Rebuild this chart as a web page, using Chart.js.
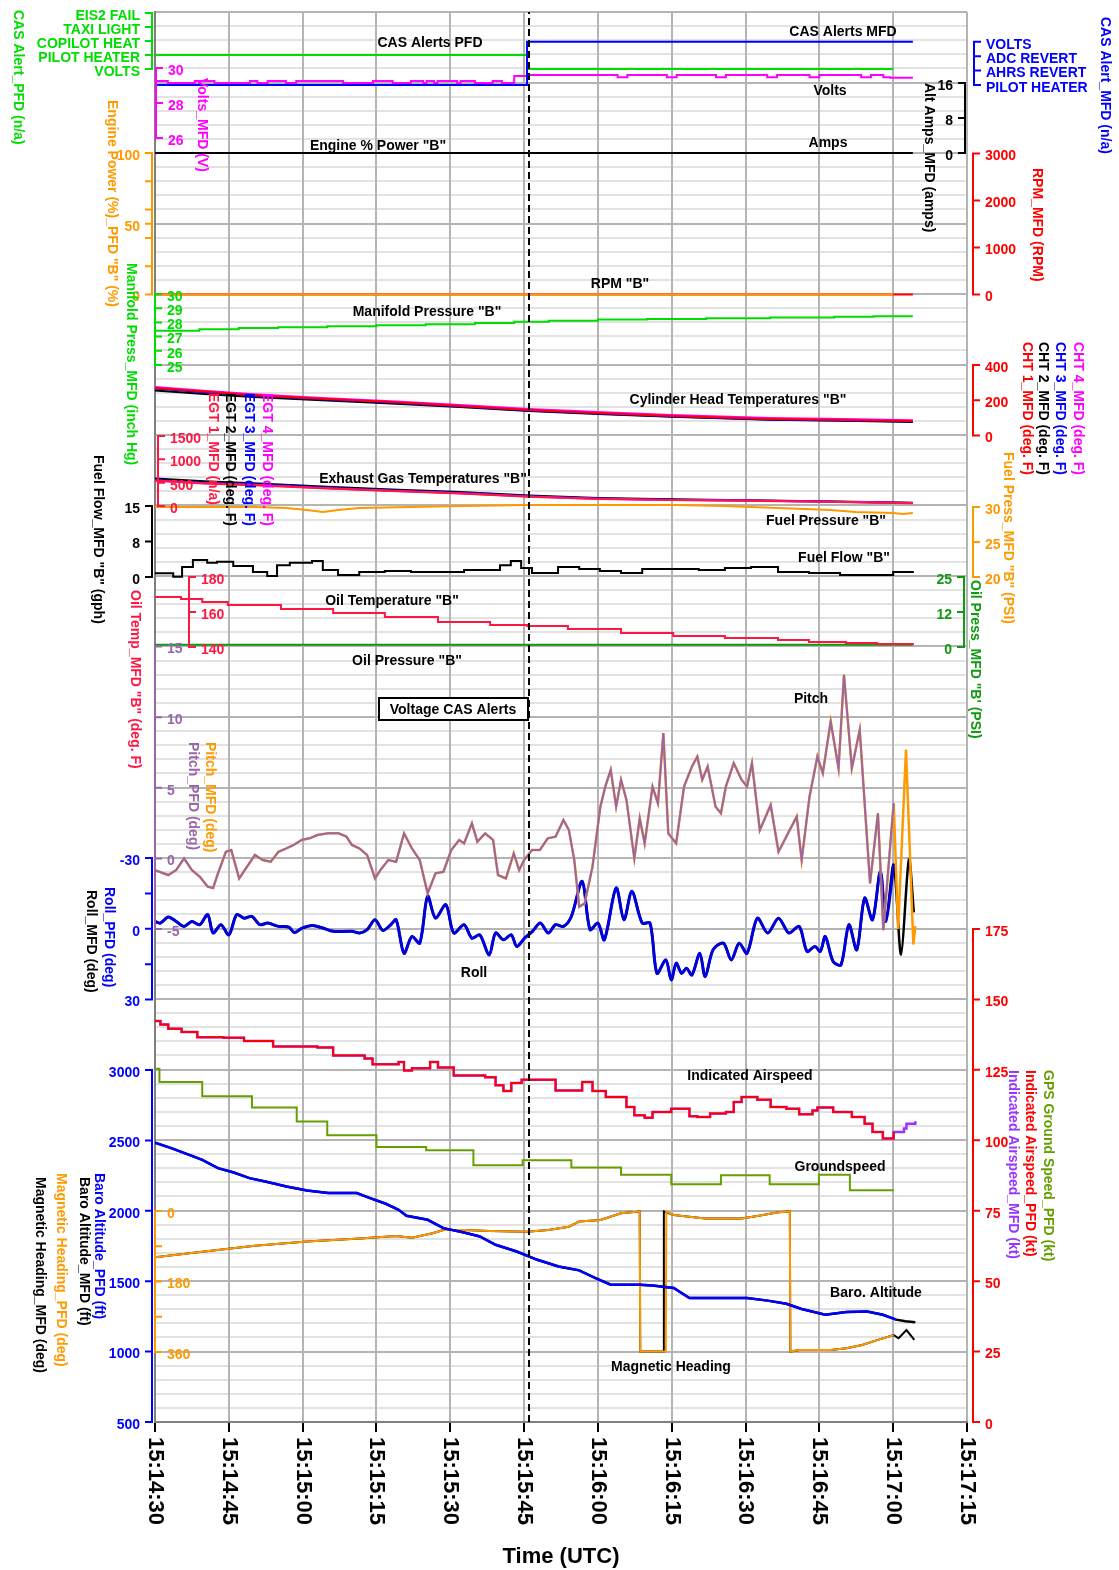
<!DOCTYPE html>
<html>
<head>
<meta charset="utf-8">
<title>Engine and flight parameters – voltage CAS alerts</title>
<script src="https://cdn.jsdelivr.net/npm/chart.js@4.4.1/dist/chart.umd.min.js"></script>
<style>
  html, body { margin: 0; padding: 0; background: #fff; }
  #chart { display: block; }
</style>
</head>
<body>
<canvas id="chart" width="1119" height="1570"></canvas>
<script>
// ─── Data (time in seconds after 15:14:30 UTC) ──────────────────
const timeTickSeconds = [0, 15, 30, 45, 60, 75, 90, 105, 120, 135, 150, 165];
const timeTickLabels = ['15:14:30', '15:14:45', '15:15:00', '15:15:15', '15:15:30', '15:15:45',
  '15:16:00', '15:16:15', '15:16:30', '15:16:45', '15:17:00', '15:17:15'];
const alertTime = 76;

const casPfdLabels = ['VOLTS', 'PILOT HEATER', 'COPILOT HEAT', 'TAXI LIGHT', 'EIS2 FAIL'];
const casMfdLabels = ['VOLTS', 'ADC REVERT', 'AHRS REVERT', 'PILOT HEATER'];
const casPfdT = [0, 75.6, 150];
const casPfdV = [1, 0, 0];
const casMfdT = [0, 75.6, 154];
const casMfdV = [3, 0, 0];

const voltsT = [0, 2.6, 8.1, 12.1, 19.3, 20.8, 22.9, 26.6, 28.7, 38.2,
  44.3, 48.3, 52, 54.5, 55.2, 56.7, 57.4, 61.4, 62.1, 65,
  68.6, 70.5, 73, 75.6, 94, 96, 104, 106, 114, 116,
  124.4, 126.4, 133, 135, 143.5, 145.5, 148, 149.4, 154];
const voltsV = [29.26, 29.15, 29.26, 29.15, 29.26, 29.15, 29.26, 29.15, 29.26, 29.15,
  29.26, 29.15, 29.26, 29.15, 29.26, 29.15, 29.26, 29.15, 29.26, 29.15,
  29.26, 29.15, 29.55, 29.6, 29.47, 29.6, 29.47, 29.6, 29.47, 29.6,
  29.47, 29.6, 29.47, 29.6, 29.47, 29.6, 29.47, 29.44, 29.44];

const ampsT = [0, 154];
const ampsV = [0, 0];
const powerT = [0, 150];
const powerV = [0, 0];
const rpmT = [0, 154];
const rpmV = [0, 0];

const manT = [0, 9, 17, 25, 35, 45, 55, 65, 73, 80, 90, 100, 112, 125, 138, 146, 154];
const manV = [27.42, 27.52, 27.6, 27.66, 27.73, 27.8, 27.87, 27.95, 28.05, 28.12, 28.2, 28.24, 28.3, 28.35, 28.4, 28.44, 28.44];

const chtT = [0, 10, 20, 35, 48, 62, 76, 90, 105, 125, 140, 154];
const cht1 = [270, 249, 229, 207, 190, 168, 145, 128, 111, 94, 88, 82];
const cht2 = [255, 236, 218, 198, 182, 161, 139, 122, 106, 89, 83, 77];
const cht3 = [267, 246, 226, 204, 187, 165, 142, 125, 108, 91, 85, 79];
const cht4 = [275, 254, 234, 212, 195, 173, 150, 133, 116, 99, 93, 87];

const egtT = [0, 10, 20, 35, 48, 62, 76, 90, 105, 120, 135, 154];
const egt1 = [540, 483, 447, 376, 319, 270, 198, 150, 128, 113, 92, 60];
const egt2 = [590, 530, 490, 415, 355, 300, 225, 172, 145, 125, 102, 70];
const egt3 = [555, 500, 465, 392, 333, 282, 208, 160, 136, 120, 98, 64];
const egt4 = [548, 490, 455, 383, 325, 275, 202, 155, 131, 116, 95, 62];

const ffT = [0, 3.7, 5.5, 7.7, 10.6, 12.6, 15.9, 19.9, 22.8, 24.8,
  27.4, 31.9, 34.1, 37.2, 41.5, 46.7, 52.0, 57.5, 62.8, 67.1,
  70.1, 72.3, 74.4, 76.6, 79.7, 81.9, 86.2, 90.4, 94.7, 99.0,
  105.3, 110.5, 115.8, 121.1, 126.6, 132.9, 139.2, 145.7, 150.0, 154.0];
const ffV = [0.78, 0.06, 2.1, 3.6, 3.0, 3.2, 2.3, 1.06, 0.2, 2.5,
  3.0, 3.4, 1.5, 0.4, 1.06, 1.27, 1.06, 1.06, 1.5, 1.5,
  2.5, 3.4, 1.9, 0.85, 0.85, 2.1, 1.7, 1.27, 0.85, 1.7,
  1.7, 1.5, 1.9, 2.1, 1.06, 0.85, 0.42, 0.42, 1.06, 0.85];

const fpT = [0, 20.3, 26.6, 30.9, 34.1, 37.2, 41.5, 52, 62.8, 75.6, 94.7, 105.3, 115.8, 126.6, 137.2, 142.4, 150, 152, 154];
const fpV = [30.0, 30.0, 29.86, 29.57, 29.29, 29.57, 29.86, 30.0, 30.14, 30.29, 30.29, 30.29, 30.14, 29.86, 29.57, 29.29, 29.14, 29.0, 29.14];

const otT = [0, 5.3, 9.6, 14.8, 25.6, 36.2, 46.7, 57.5, 68.1, 75.6, 83.9, 94.7, 105.3, 115.8, 126.6, 132.9, 140.4, 146.7, 154];
const otV = [168.6, 167.4, 165.7, 164.0, 161.7, 159.4, 157.1, 154.3, 152.6, 152.0, 150.3, 148.0, 146.3, 145.1, 144.0, 142.9, 142.3, 141.7, 141.1];

const opT = [0, 154];
const opV = [0.8, 0.8];

const pitchT = [0, 2.7, 4.3, 5.9, 7.5, 9.1, 10.7, 11.8, 12.8, 14.4,
  15.5, 17.1, 18.7, 20.3, 21.9, 23.5, 25.1, 26.7, 28.2, 29.8,
  31.4, 33.0, 35.2, 37.3, 38.9, 40.0, 41.5, 43.1, 44.7, 45.8,
  47.4, 49.0, 50.6, 52.2, 53.8, 55.4, 57.0, 58.6, 60.2, 61.8,
  62.8, 64.4, 65.5, 67.1, 68.7, 69.7, 71.3, 72.9, 74.0, 75.0,
  76.6, 78.2, 79.8, 81.4, 83.0, 84.1, 85.2, 86.2, 87.3, 88.9,
  90.5, 91.5, 92.6, 93.7, 94.7, 95.8, 97.4, 98.5, 99.5, 101.1,
  102.2, 103.3, 104.3, 105.9, 107.5, 109.1, 110.2, 111.2, 112.3, 113.9,
  115.0, 116.0, 117.6, 119.2, 120.3, 121.3, 122.9, 125.1, 126.7, 128.8,
  130.4, 131.4, 133.0, 134.6, 135.7, 137.3, 138.9, 140.0, 141.6, 143.2,
  145.3, 146.9, 148.0, 150.1];
const pitchV = [-0.83, -1.18, -0.83, 0, -0.83, -1.3, -2.0, -2.1, -1.06, 0.47,
  0.59, -1.42, -0.59, 0.24, -0.12, -0.24, 0.47, 0.71, 0.95, 1.3,
  1.42, 1.65, 1.77, 1.77, 1.54, 0.95, 0.71, 0.24, -1.42, -0.83,
  -0.12, -0.24, 1.77, 0.71, -0.12, -2.48, -1.06, -0.95, 0.59, 1.3,
  1.06, 2.48, 1.18, 1.77, 1.3, -1.18, -1.42, 0.35, -0.83, -0.12,
  0.59, 0.59, 1.42, 1.54, 2.72, 2.0, -0.12, -3.43, -3.19, -0.59,
  3.66, 5.08, 6.26, 3.66, 5.56, 4.14, 0, 2.84, 1.06, 5.08,
  3.9, 8.87, 1.77, 1.06, 5.08, 6.5, 7.21, 5.56, 6.5, 3.66,
  3.19, 5.08, 6.74, 5.56, 5.08, 6.74, 2.0, 3.78, 0.47, 1.89,
  2.96, -0.12, 4.37, 7.21, 6.03, 9.69, 6.38, 13.0, 6.38, 9.1,
  -1.77, 3.19, -5.08, 3.9];
const pitchMfdTailT = [151.0, 152.6, 154.1, 154.5];
const pitchMfdTailV = [-5.0, 7.7, -6.1, -4.8];

const rollT = [0, 1.1, 2.7, 4.3, 5.9, 7.5, 9.1, 10.7, 11.8, 13.4,
  15.0, 16.6, 18.1, 19.7, 21.3, 22.9, 25.1, 27.2, 28.3, 29.9,
  32.0, 34.1, 36.2, 40.0, 41.6, 43.1, 44.7, 46.3, 47.9, 49.0,
  50.6, 52.2, 53.8, 55.4, 57.0, 59.1, 60.7, 62.8, 64.4, 66.0,
  67.9, 69.2, 70.8, 72.4, 73.5, 75.1, 76.7, 78.3, 79.9, 81.4,
  83.0, 84.6, 86.8, 88.4, 90.0, 91.3, 93.7, 95.3, 96.9, 99.0,
  100.6, 102.0, 103.8, 104.9, 105.9, 107.0, 108.0, 109.1, 110.7, 111.8,
  113.4, 115.5, 117.1, 118.7, 120.3, 122.4, 124.5, 126.7, 128.8, 130.9,
  132.5, 134.1, 135.2, 136.2, 137.8, 139.4, 141.0, 142.6, 144.2, 145.8,
  147.4, 148.5, 150.1];
const rollV = [-3.1, -2.4, -5.0, -3.1, -1.0, -3.1, -1.7, -6.0, 1.8, -1.7,
  2.6, -6.0, -4.5, -5.2, -1.7, -2.4, -1.0, -0.7, 1.6, -0.3,
  -1.4, -0.3, 1.1, 1.1, 1.8, 0.4, -3.8, 0.7, -1.7, -3.8,
  10.4, 3.3, 6.1, -13.8, -4.5, -10.2, 1.8, -1.7, 4.0, 2.6,
  11.1, 1.8, 4.7, 2.6, 7.5, 4.0, 1.1, -2.4, 1.8, -1.7,
  -1.0, -5.2, -20.1, 0.4, -2.4, 4.7, -17.3, -3.8, -15.9, -2.4,
  -2.4, 18.9, 13.2, 21.7, 14.6, 18.9, 16.7, 19.6, 10.4, 20.3,
  8.9, 6.1, 13.2, 6.1, 10.4, -4.5, 1.8, -4.5, 1.8, -1.0,
  9.6, 7.5, 9.6, 3.3, 13.9, 15.3, -1.7, 8.9, -13.0, -3.8,
  -24.4, -3.1, -27.2];
const rollMfdTailT = [151.6, 153.2, 154.2];
const rollMfdTailV = [10.9, -29.4, -6.9];

const iasT = [0, 1.1, 2.7, 5.4, 8.6, 13.9, 18.1, 24, 33, 36.2,
  42.6, 44.2, 47.9, 49.5, 50.6, 52.2, 54.3, 55.9, 57.5, 60.7,
  67.1, 69.2, 70.8, 72.4, 74.5, 78.3, 81.4, 84.6, 86.8, 88.9,
  91.6, 94.7, 95.8, 97.4, 99.5, 101.1, 104.3, 104.9, 107, 108.6,
  110.2, 112.8, 116, 117.6, 119.2, 122.4, 125.1, 128.3, 130.9, 133.6,
  134.6, 137.8, 141.6, 144.2, 145.8, 147.9, 150.1];
const iasV = [142.3, 141.1, 139.6, 138.4, 136.6, 136.4, 135.2, 133.3, 132.9, 130.1,
  129.0, 127.0, 127.0, 127.8, 124.8, 125.6, 125.6, 127.8, 125.8, 123.0,
  122.4, 119.5, 117.5, 120.3, 121.5, 121.5, 117.7, 117.7, 120.7, 117.5,
  115.4, 115.4, 111.8, 108.9, 108.0, 110.0, 110.0, 111.2, 111.2, 108.5,
  108.3, 109.5, 110.0, 113.6, 115.4, 114.4, 111.8, 111.2, 109.2, 110.6,
  111.6, 110.0, 108.3, 105.9, 102.9, 100.6, 102.9];
const iasMfdTailT = [152.2, 152.7, 154.5];
const iasMfdTailV = [104.2, 105.9, 106.8];

const gsT = [0, 0.9, 9.6, 19.7, 28.8, 35, 45, 55.1, 64.7, 74.7, 84.6, 94.7, 104.9, 115, 124.9, 134.9, 141.2, 150.1];
const gsV = [125.4, 120.7, 115.6, 111.6, 106.7, 101.8, 97.6, 96.5, 91.1, 92.9, 90.3, 87.8, 84.4, 87.6, 84.4, 87.8, 82.3, 82.3];

const baroT = [0, 3.3, 7.5, 9.6, 12.8, 16, 19.2, 22.4, 26.7, 30.9,
  35.2, 41, 43.7, 46.9, 49.5, 51.1, 55.4, 58.6, 62.8, 66,
  69.2, 73.5, 77.7, 82, 86.2, 89.4, 92.6, 98.5, 101.1, 105.4,
  108.6, 111.8, 120.3, 124.5, 128.3, 131.4, 136.2, 140.5, 144.7, 147.9,
  150.6];
const baroV = [2484, 2445, 2390, 2362, 2303, 2272, 2232, 2208, 2172, 2144,
  2126, 2126, 2090, 2050, 2007, 1965, 1936, 1877, 1846, 1818,
  1759, 1711, 1652, 1605, 1577, 1523, 1475, 1475, 1470, 1452,
  1381, 1381, 1381, 1362, 1340, 1303, 1262, 1281, 1285, 1262,
  1227];
const baroMfdTailT = [152.5, 154.5];
const baroMfdTailV = [1215, 1208];

const hdgT = [0, 9.6, 20.3, 30.9, 41.6, 49, 52.2, 56.4, 58.6, 62.8,
  68.1, 75.6, 79.9, 84.1, 86.2, 90.5, 94.7, 97.9, 98.5, 98.6,
  103.8, 103.9, 105.4, 111.8, 119.2, 122.4, 126.7, 129.0, 129.1, 131.0,
  137.3, 140.5, 143.7, 146.9, 150.1];
const hdgV = [118, 104, 89, 78, 70, 64, 68, 57, 48.5, 48.5,
  51, 53, 48.5, 40, 27, 23, 6, 2, 1, 359,
  359, 1, 10, 19, 19, 13, 3, 1, 359, 355,
  355, 350.6, 342, 329, 317];
const hdgMfdT = [0, 9.6, 20.3, 30.9, 41.6, 49, 52.2, 56.4, 58.6, 62.8,
  68.1, 75.6, 79.9, 84.1, 86.2, 90.5, 94.7, 97.9, 98.5, 98.6,
  103.3, 103.4, 105.4, 111.8, 119.2, 122.4, 126.7, 129.0, 129.1, 131.0,
  137.3, 140.5, 143.7, 146.9, 150.1, 151.1, 152.7, 154.3];
const hdgMfdV = [118, 104, 89, 78, 70, 64, 68, 57, 48.5, 48.5,
  51, 53, 48.5, 40, 27, 23, 6, 2, 1, 359,
  359, 1, 10, 19, 19, 13, 3, 1, 359, 355,
  355, 350.6, 342, 329, 317, 325, 304, 329];

// ─── Colours / fonts ────────────────────────────────────────────
const GREEN = '#00dd00', DKGREEN = '#119911', ORANGE = '#ff9900', MAGENTA = '#ff00ff';
const BLUE = '#0000ff', RED = '#ff0000', CRIMSON = '#ff1744', MAUVE = '#9966aa';
const VIOLET = '#9933ff', OLIVE = '#66a000', BLACK = '#000000';
const FONT = 'Arial, "Liberation Sans", sans-serif';

// ─── Stacked panels: each hidden y scale spans the full plot ────
const AREA_TOP = 12, AREA_BOTTOM = 1422;
function placeAxis(vA, yA, vB, yB) {
  const k = (vB - vA) / (yB - yA);
  const top = vA + (AREA_TOP - yA) * k;
  const bottom = vA + (AREA_BOTTOM - yA) * k;
  const s = { type: 'linear', axis: 'y', display: false };
  if (top > bottom) { s.min = bottom; s.max = top; }
  else { s.min = top; s.max = bottom; s.reverse = true; }
  return s;
}

// axis decorations drawn inside / beside the plot
const axisMarks = [
  { id: 'yCasPfd', x: 152, side: -1, color: GREEN, ticks: casPfdLabels.map((l, i) => [i, l]) },
  { id: 'yCasMfd', x: 974, side: 1, color: BLUE, ticks: casMfdLabels.map((l, i) => [i, l]) },
  { id: 'yVolts', x: 156, side: 1, color: MAGENTA, ticks: [[30, '30'], [28, '28'], [26, '26']] },
  { id: 'yAmps', x: 965, side: -1, color: BLACK, ticks: [[16, '16'], [8, '8'], [0, '0']] },
  { id: 'yPower', x: 152, side: -1, color: ORANGE, ticks: [[100, '100'], [50, '50'], [0, '0']], minor: [20, 40, 60, 80] },
  { id: 'yRpm', x: 973, side: 1, color: RED, ticks: [[3000, '3000'], [2000, '2000'], [1000, '1000'], [0, '0']] },
  { id: 'yMan', x: 155, side: 1, color: GREEN, ticks: [[30, '30'], [29, '29'], [28, '28'], [27, '27'], [26, '26'], [25, '25']] },
  { id: 'yCht', x: 973, side: 1, color: RED, ticks: [[400, '400'], [200, '200'], [0, '0']] },
  { id: 'yEgt', x: 158, side: 1, color: CRIMSON, ticks: [[1500, '1500'], [1000, '1000'], [500, '500'], [0, '0']] },
  { id: 'yFflow', x: 152, side: -1, color: BLACK, ticks: [[15, '15'], [7.5, '8'], [0, '0']] },
  { id: 'yFpress', x: 973, side: 1, color: ORANGE, ticks: [[30, '30'], [25, '25'], [20, '20']] },
  { id: 'yOilT', x: 189, side: 1, color: CRIMSON, ticks: [[180, '180'], [160, '160'], [140, '140']] },
  { id: 'yOilP', x: 964, side: -1, color: DKGREEN, ticks: [[25, '25'], [12.5, '12'], [0, '0']] },
  { id: 'yPitch', x: 155, side: 1, color: MAUVE, ticks: [[15, '15'], [10, '10'], [5, '5'], [0, '0'], [-5, '-5']] },
  { id: 'yRoll', x: 152, side: -1, color: BLUE, ticks: [[-30, '-30'], [0, '0'], [30, '30']], minor: [-15, 15] },
  { id: 'yIas', x: 973, side: 1, color: RED, ticks: [[175, '175'], [150, '150'], [125, '125'], [100, '100'], [75, '75'], [50, '50'], [25, '25'], [0, '0']] },
  { id: 'yBaro', x: 152, side: -1, color: BLUE, ticks: [[3000, '3000'], [2500, '2500'], [2000, '2000'], [1500, '1500'], [1000, '1000'], [500, '500']] },
  { id: 'yHdg', x: 155, side: 1, color: ORANGE, ticks: [[0, '0'], [180, '180'], [360, '360']], minor: [90, 270] }
];

const axisTitles = [
  ['CAS Alert_PFD (n/a)', 18, 10, GREEN],
  ['Volts_MFD (V)', 202, 78, MAGENTA],
  ['Engine Power (%)_PFD "B" (%)', 112, 100, ORANGE],
  ['Manifold Press_MFD (inch Hg)', 131, 263, GREEN],
  ['EGT 1_MFD (n/a)', 213, 393, CRIMSON],
  ['EGT 2_MFD (deg. F)', 230, 393, BLACK],
  ['EGT 3_MFD (deg. F)', 249, 393, BLUE],
  ['EGT 4_MFD (deg. F)', 267, 393, MAGENTA],
  ['Fuel Flow_MFD "B" (gph)', 98, 455, BLACK],
  ['Oil Temp_MFD "B" (deg. F)', 135, 590, CRIMSON],
  ['Pitch_MFD (deg)', 210, 742, ORANGE],
  ['Pitch_PFD (deg)', 193, 742, MAUVE],
  ['Roll_PFD (deg)', 109, 887, BLUE],
  ['Roll_MFD (deg)', 91, 890, BLACK],
  ['Baro Altitude_PFD (ft)', 99, 1173, BLUE],
  ['Baro Altitude_MFD (ft)', 84, 1177, BLACK],
  ['Magnetic Heading_PFD (deg)', 61, 1173, ORANGE],
  ['Magnetic Heading_MFD (deg)', 40, 1177, BLACK],
  ['CAS Alert_MFD (n/a)', 1105, 17, BLUE],
  ['Alt Amps_MFD (amps)', 929, 83, BLACK],
  ['RPM_MFD (RPM)', 1037, 168, RED],
  ['CHT 1_MFD (deg. F)', 1027, 342, RED],
  ['CHT 2_MFD (deg. F)', 1043, 342, BLACK],
  ['CHT 3_MFD (deg. F)', 1060, 342, BLUE],
  ['CHT 4_MFD (deg. F)', 1078, 342, MAGENTA],
  ['Fuel Press_MFD "B" (PSI)', 1008, 452, ORANGE],
  ['Oil Press_MFD "B\' (PSI)', 975, 580, DKGREEN],
  ['GPS Ground Speed_PFD (kt)', 1048, 1070, OLIVE],
  ['Indicated Airspeed_PFD (kt)', 1030, 1070, RED],
  ['Indicated Airspeed_MFD (kt)', 1013, 1070, VIOLET]
];

const curveLabels = [
  ['CAS Alerts PFD', 430, 43], ['CAS Alerts MFD', 843, 32], ['Volts', 830, 91],
  ['Engine % Power "B"', 378, 146], ['Amps', 828, 143], ['RPM "B"', 620, 284],
  ['Manifold Pressure "B"', 427, 312], ['Cylinder Head Temperatures "B"', 738, 400],
  ['Exhaust Gas Temperatures "B"', 423, 479], ['Fuel Pressure "B"', 826, 521],
  ['Fuel Flow "B"', 844, 558], ['Oil Temperature "B"', 392, 601], ['Oil Pressure "B"', 407, 661],
  ['Pitch', 811, 699], ['Roll', 474, 973], ['Indicated Airspeed', 750, 1076],
  ['Groundspeed', 840, 1167], ['Baro. Altitude', 876, 1293], ['Magnetic Heading', 671, 1367]
];

// ─── Helpers ─────────────────────────────────────────────────
function series(ts, vs) { return ts.map((t, i) => ({ x: t, y: vs[i] })); }

function trace(axis, ts, vs, color, extra) {
  return Object.assign({
    data: series(ts, vs), yAxisID: axis, borderColor: color, borderWidth: 2,
    pointRadius: 0, fill: false, tension: 0
  }, extra || {});
}

function rotatedText(ctx, txt, x, y) {
  ctx.save();
  ctx.translate(x, y);
  ctx.rotate(Math.PI / 2);
  ctx.textAlign = 'left';
  ctx.textBaseline = 'middle';
  ctx.fillText(txt, 0, 0);
  ctx.restore();
}

// ─── Decorations plugin (stacked axes, titles, labels) ───────
const decorations = {
  id: 'decorations',
  afterDraw(chart) {
    const { ctx, scales } = chart;
    ctx.save();
    ctx.lineWidth = 2;
    ctx.font = 'bold 14px ' + FONT;
    ctx.textBaseline = 'middle';

    axisMarks.forEach(a => {
      const sc = scales[a.id];
      const vals = a.ticks.map(t => t[0]);
      const yA = sc.getPixelForValue(Math.min(...vals));
      const yB = sc.getPixelForValue(Math.max(...vals));
      ctx.strokeStyle = a.color;
      ctx.fillStyle = a.color;
      ctx.beginPath();
      ctx.moveTo(a.x, yA);
      ctx.lineTo(a.x, yB);
      vals.concat(a.minor || []).forEach(v => {
        const y = sc.getPixelForValue(v);
        ctx.moveTo(a.x - a.side, y);
        ctx.lineTo(a.x + a.side * 7, y);
      });
      ctx.stroke();
      ctx.textAlign = a.side < 0 ? 'right' : 'left';
      a.ticks.forEach(([v, txt]) => ctx.fillText(txt, a.x + a.side * 12, sc.getPixelForValue(v) + 3));
    });

    axisTitles.forEach(([txt, x, y, color]) => {
      ctx.fillStyle = color;
      rotatedText(ctx, txt, x, y);
    });

    ctx.fillStyle = BLACK;
    ctx.textAlign = 'center';
    curveLabels.forEach(([txt, x, y]) => ctx.fillText(txt, x, y));

    // boxed note
    ctx.fillStyle = '#fff';
    ctx.fillRect(379, 698, 149, 22);
    ctx.strokeStyle = BLACK;
    ctx.strokeRect(379, 698, 149, 22);
    ctx.fillStyle = BLACK;
    ctx.fillText('Voltage CAS Alerts', 453, 710);

    // time axis
    ctx.font = 'bold 22px ' + FONT;
    timeTickSeconds.forEach((s, i) => rotatedText(ctx, timeTickLabels[i], scales.x.getPixelForValue(s), 1437));
    ctx.textAlign = 'center';
    ctx.fillText('Time (UTC)', 561, 1557);
    ctx.restore();
  }
};

// ─── Chart ───────────────────────────────────────────────────
const datasets = [
  { data: [{ x: alertTime, y: 0 }, { x: alertTime, y: 100 }], yAxisID: 'g', borderColor: BLACK,
    borderWidth: 2, borderDash: [7, 4], pointRadius: 0 },
  trace('yCasMfd', casMfdT, casMfdV, BLUE, { stepped: true }),
  trace('yCasPfd', casPfdT, casPfdV, GREEN, { stepped: true }),
  trace('yVolts', voltsT, voltsV, MAGENTA, { stepped: true }),
  trace('yAmps', ampsT, ampsV, BLACK),
  trace('yPower', powerT, powerV, ORANGE),
  trace('yRpm', rpmT, rpmV, RED),
  trace('yMan', manT, manV, GREEN, { stepped: true }),
  trace('yCht', chtT, cht1, RED),
  trace('yCht', chtT, cht4, MAGENTA),
  trace('yCht', chtT, cht3, BLUE),
  trace('yCht', chtT, cht2, BLACK),
  trace('yEgt', egtT, egt1, CRIMSON),
  trace('yEgt', egtT, egt4, MAGENTA),
  trace('yEgt', egtT, egt3, BLUE),
  trace('yEgt', egtT, egt2, BLACK),
  trace('yFpress', fpT, fpV, ORANGE),
  trace('yFflow', ffT, ffV, BLACK, { stepped: true }),
  trace('yOilT', otT, otV, CRIMSON, { stepped: true }),
  trace('yOilP', opT, opV, DKGREEN),
  trace('yPitch', pitchT, pitchV, MAUVE),
  trace('yPitch', pitchT.concat(pitchMfdTailT), pitchV.concat(pitchMfdTailV), ORANGE, { borderWidth: 2.5 }),
  trace('yRoll', rollT, rollV, '#0000dd', { tension: 0.3, borderWidth: 3 }),
  trace('yRoll', rollT.concat(rollMfdTailT), rollV.concat(rollMfdTailV), BLACK, { tension: 0.3, borderWidth: 2.5 }),
  trace('yIas', iasT, iasV, RED, { stepped: true }),
  trace('yIas', iasT.concat(iasMfdTailT), iasV.concat(iasMfdTailV), VIOLET, { stepped: true, borderWidth: 2.5 }),
  trace('yIas', gsT, gsV, OLIVE, { stepped: true }),
  trace('yBaro', baroT, baroV, BLUE, { borderWidth: 2.5 }),
  trace('yBaro', baroT.concat(baroMfdTailT), baroV.concat(baroMfdTailV), BLACK, { borderWidth: 2.5 }),
  trace('yHdg', hdgT, hdgV, ORANGE),
  trace('yHdg', hdgMfdT, hdgMfdV, BLACK)
];

new Chart(document.getElementById('chart'), {
  type: 'line',
  data: { datasets },
  options: {
    responsive: false,
    devicePixelRatio: 1,
    animation: false,
    events: [],
    layout: { padding: { left: 155, right: 152, top: 12, bottom: 138 } },
    plugins: { legend: { display: false }, tooltip: { enabled: false } },
    scales: {
      x: {
        type: 'linear', min: 0, max: 165,
        ticks: { stepSize: 15, maxTicksLimit: 1000, display: false },
        grid: { color: '#b4b4b4', lineWidth: 2, tickLength: 10, tickColor: BLACK, tickWidth: 2, z: -1 },
        border: { color: '#808080', width: 2 }
      },
      g: {
        type: 'linear', axis: 'y', position: 'left', min: 0, max: 100,
        ticks: { stepSize: 1, maxTicksLimit: 1000, display: false },
        grid: {
          drawTicks: false, lineWidth: 2, z: -2,
          color: c => (c.tick && c.tick.value % 5 === 0) ? '#b4b4b4' : '#e2e2e2'
        },
        border: { color: '#808080', width: 2 }
      },
      yCasPfd: placeAxis(0, 69, 4, 13),
      yCasMfd: placeAxis(0, 41.7, 3, 85),
      yVolts: placeAxis(30, 68, 26, 138),
      yAmps: placeAxis(16, 83, 0, 153),
      yPower: placeAxis(100, 153, 0, 294.5),
      yRpm: placeAxis(3000, 153.5, 0, 294.5),
      yMan: placeAxis(30, 294, 25, 365),
      yCht: placeAxis(400, 365, 0, 435.5),
      yEgt: placeAxis(1500, 436, 0, 506),
      yFflow: placeAxis(15, 506, 0, 577),
      yFpress: placeAxis(30, 507, 20, 577),
      yOilT: placeAxis(180, 577, 140, 647),
      yOilP: placeAxis(25, 577, 0, 647),
      yPitch: placeAxis(15, 646.5, -5, 929),
      yRoll: placeAxis(-30, 858, 30, 999.5),
      yIas: placeAxis(175, 929, 0, 1422),
      yBaro: placeAxis(3000, 1070, 500, 1422),
      yHdg: placeAxis(0, 1211, 360, 1352)
    }
  },
  plugins: [decorations]
});
</script>
</body>
</html>
